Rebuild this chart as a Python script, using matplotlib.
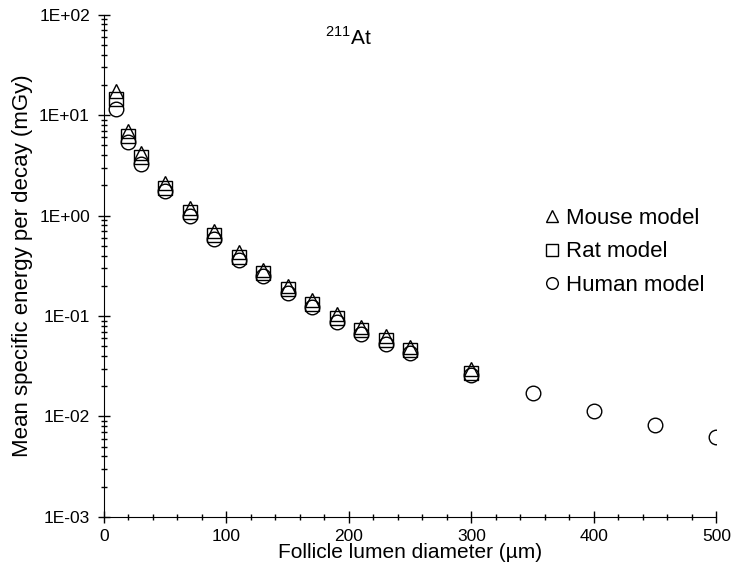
import matplotlib
matplotlib.use("Agg")
import matplotlib.pyplot as plt
from matplotlib.ticker import FuncFormatter, MultipleLocator, LogLocator, NullFormatter
import math

plt.rcParams['font.family'] = ['Liberation Sans', 'DejaVu Sans']
plt.rcParams['mathtext.fontset'] = 'custom'
plt.rcParams['mathtext.rm'] = 'Liberation Sans'

x_small = [10, 20, 30, 50, 70, 90, 110, 130, 150, 170, 190, 210, 230, 250, 300]
mouse = [17.5, 7.0, 4.2, 2.1, 1.2, 0.70, 0.43, 0.29, 0.20, 0.145, 0.105, 0.078, 0.063, 0.049, 0.030]
rat = [14.5, 6.2, 3.8, 1.9, 1.08, 0.64, 0.39, 0.27, 0.185, 0.133, 0.096, 0.072, 0.058, 0.046, 0.027]
x_human = [10, 20, 30, 50, 70, 90, 110, 130, 150, 170, 190, 210, 230, 250, 300, 350, 400, 450, 500]
human = [11.5, 5.4, 3.3, 1.75, 1.0, 0.58, 0.36, 0.25, 0.17, 0.122, 0.088, 0.066, 0.053, 0.043, 0.026,
         0.017, 0.0113, 0.0082, 0.0063]

fig = plt.figure(figsize=(7.31, 5.68), dpi=100)
ax = fig.add_axes([0.142, 0.09, 0.838, 0.884])

mk = dict(linestyle='none', markerfacecolor='none', markeredgecolor='black', markersize=10.5, markeredgewidth=1.0)
ax.plot(x_small, mouse, marker='^', label='Mouse model', **mk)
ax.plot(x_small, rat, marker='s', label='Rat model', **mk)
ax.plot(x_human, human, marker='o', label='Human model', **mk)

ax.set_yscale('log')
ax.set_xlim(0, 500)
ax.set_ylim(1e-3, 1e2)
ax.xaxis.set_major_locator(MultipleLocator(100))
ax.xaxis.set_minor_locator(MultipleLocator(20))
ax.yaxis.set_major_locator(LogLocator(base=10, numticks=10))
ax.yaxis.set_minor_locator(LogLocator(base=10, subs=range(2, 10), numticks=20))
ax.yaxis.set_minor_formatter(NullFormatter())

def efmt(v, pos):
    e = int(round(math.log10(v)))
    return "1E%s%02d" % ('+' if e >= 0 else '-', abs(e))
ax.yaxis.set_major_formatter(FuncFormatter(efmt))

for s in ['top', 'right']:
    ax.spines[s].set_visible(False)
ax.tick_params(which='major', direction='inout', length=8, width=1, labelsize=12.5)
ax.tick_params(which='minor', direction='inout', length=5, width=1)
ax.tick_params(axis='x', pad=5)
ax.tick_params(axis='y', pad=6)

ax.set_xlabel('Follicle lumen diameter (µm)', fontsize=15, labelpad=-1)
ax.set_ylabel('Mean specific energy per decay (mGy)', fontsize=16, labelpad=4)

ax.text(0.399, 0.955, r'$^{211}$At', transform=ax.transAxes, fontsize=15, ha='center', va='center')

leg = ax.legend(loc='upper left', bbox_to_anchor=(0.716, 0.615), frameon=False, fontsize=16,
                handletextpad=0.15, handlelength=0.9, labelspacing=0.55, markerscale=0.8,
                borderpad=0, borderaxespad=0)

fig.savefig('out.png', dpi=100)
